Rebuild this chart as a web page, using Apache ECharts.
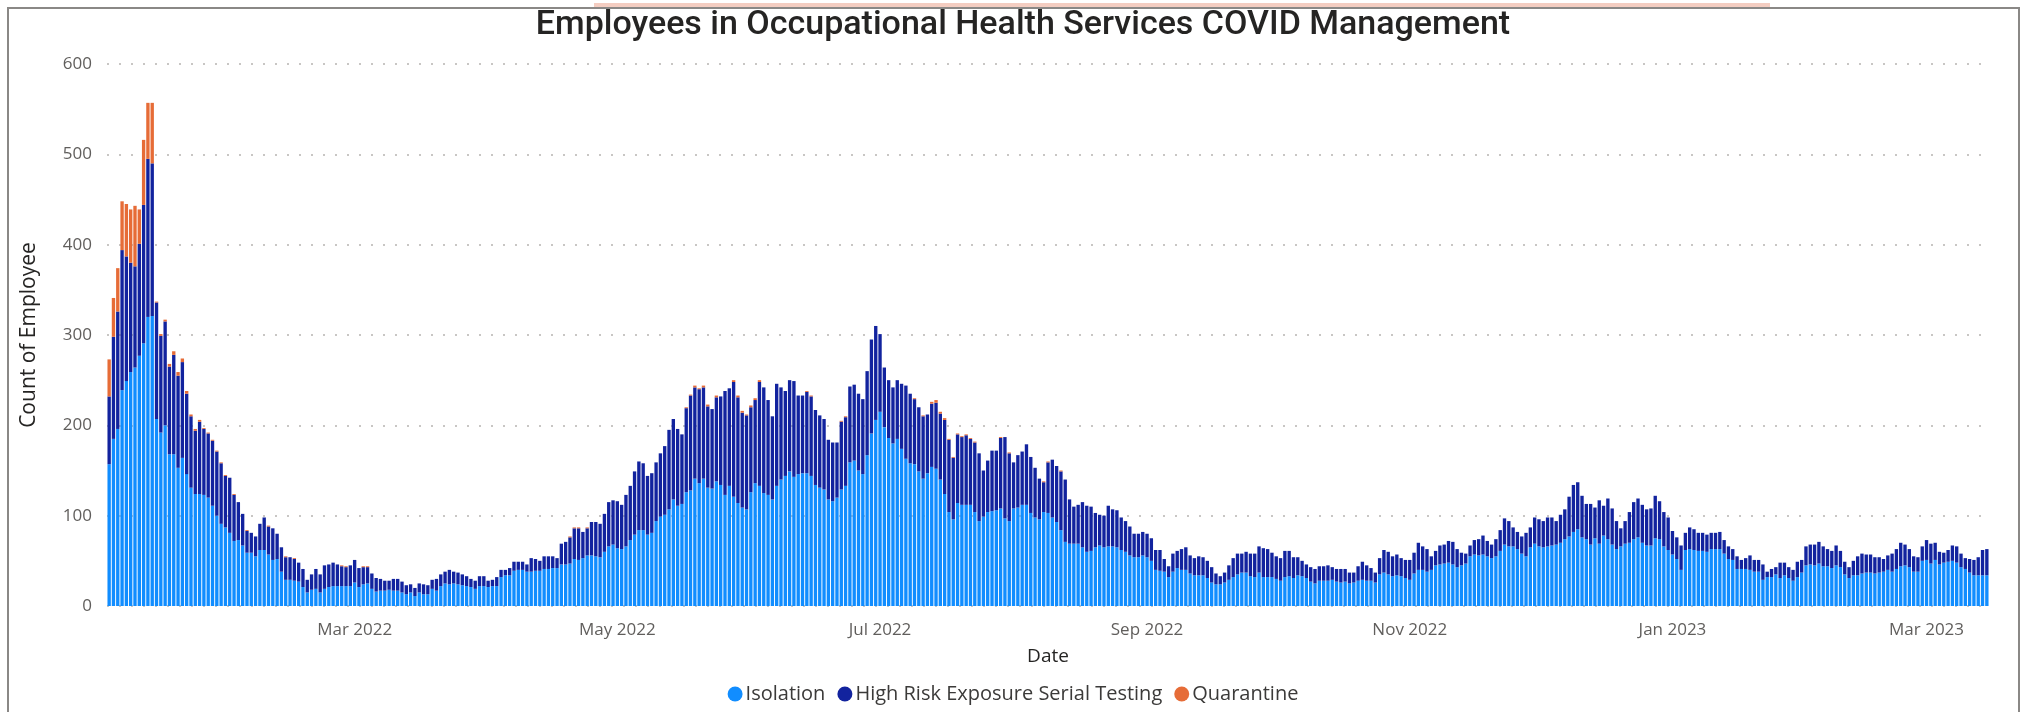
<!DOCTYPE html>
<html>
<head>
<meta charset="utf-8">
<title>Employees in Occupational Health Services COVID Management</title>
<script src="https://cdn.jsdelivr.net/npm/echarts@6.0.0/dist/echarts.min.js"></script>
<style>
  html, body { margin: 0; padding: 0; background: #fff; }
  #chart { width: 2026px; height: 712px; }
</style>
</head>
<body>
<div id="chart"></div>
<script>
  // first day shown and month ticks labelled on the axis
  const startDate = '2022-01-03';
  const tickMonths = ['2022-03', '2022-05', '2022-07', '2022-09', '2022-11', '2023-01', '2023-03'];
  const seriesNames = ['Isolation', 'High Risk Exposure Serial Testing', 'Quarantine'];

  // daily counts, one value per day from startDate
  const isolation = [
    157,185,196,239,249,259,264,277,291,320,
    321,207,192,200,168,168,153,164,146,131,
    124,124,123,120,111,100,91,87,81,72,
    73,67,59,59,55,62,62,57,51,52,
    38,29,29,28,27,21,15,18,19,15,
    19,21,22,22,22,22,22,26,21,24,
    25,19,16,17,17,18,17,17,15,13,
    15,11,15,13,13,19,17,22,25,24,
    25,24,23,22,21,19,22,22,21,22,
    22,32,34,34,39,40,40,38,38,39,
    39,41,41,42,42,46,46,47,52,51,
    53,56,56,55,54,60,66,68,64,63,
    66,73,79,84,84,79,81,94,99,101,
    107,118,111,113,126,128,141,136,141,131,
    130,138,134,123,133,121,114,109,107,126,
    136,133,125,123,118,133,140,144,149,143,
    146,147,147,144,134,131,129,118,116,120,
    129,133,159,161,150,146,167,191,206,215,
    198,186,180,185,174,163,158,157,149,141,
    147,154,152,140,124,104,96,114,112,112,
    112,104,94,99,104,105,106,108,97,94,
    108,109,112,112,103,98,96,104,103,98,
    93,84,71,69,69,69,65,60,61,65,
    67,65,66,66,65,62,60,56,54,54,
    56,54,50,40,39,38,32,38,42,40,
    40,36,34,34,34,31,26,24,24,26,
    29,32,35,37,37,33,32,37,32,32,
    32,30,28,32,33,31,34,33,31,27,
    25,28,28,28,29,27,26,27,25,26,
    28,29,28,28,26,35,37,35,33,34,
    33,31,29,36,40,40,38,40,45,46,
    47,48,46,43,45,47,55,57,56,57,
    55,53,55,61,68,66,66,63,58,55,
    65,69,66,65,66,67,68,70,74,77,
    82,85,76,74,68,75,69,78,74,68,
    63,66,69,70,74,76,70,67,67,75,
    74,66,62,57,52,40,62,63,62,61,
    61,60,63,63,63,58,52,51,41,41,
    41,40,38,38,29,32,32,35,31,34,
    31,28,32,37,45,46,45,47,44,44,
    42,45,43,35,31,34,34,36,37,37,
    36,37,38,40,38,41,44,45,43,38,
    38,50,51,47,51,46,48,49,50,48,
    43,41,37,34,34,34,34
  ];

  const highRisk = [
    75,113,130,155,138,121,112,124,153,175,
    169,129,107,115,97,110,102,106,89,79,
    70,80,73,71,72,71,67,57,61,51,
    42,35,24,22,22,29,36,31,35,28,
    27,25,25,24,21,20,14,17,22,20,
    26,25,26,24,22,21,23,25,21,19,
    18,17,15,13,11,10,13,13,12,10,
    9,9,10,11,10,10,13,13,13,16,
    13,13,12,11,9,9,11,11,7,7,
    10,8,6,8,10,9,9,8,15,13,
    11,14,14,13,11,23,25,29,34,35,
    29,30,37,38,37,42,49,49,52,49,
    57,60,70,76,74,65,66,65,70,76,
    88,89,85,77,93,105,101,104,101,90,
    88,93,98,115,108,127,117,105,104,94,
    92,115,117,105,92,113,102,94,101,106,
    87,86,90,88,83,80,78,66,65,61,
    75,76,84,84,85,83,93,104,104,86,
    66,64,62,65,72,81,77,72,71,69,
    65,70,73,73,82,80,68,76,75,77,
    73,77,75,51,57,67,66,78,90,75,
    51,58,59,67,62,55,45,33,56,64,
    62,65,69,49,41,43,50,51,49,38,
    34,35,45,41,41,36,34,32,26,26,
    26,26,25,22,23,14,12,20,19,23,
    25,20,19,21,20,19,17,12,9,11,
    16,21,23,21,23,25,26,29,32,31,
    27,25,25,29,28,23,20,17,15,16,
    16,16,16,17,14,14,15,14,12,11,
    16,20,17,14,11,18,25,25,22,23,
    20,20,22,23,30,26,25,15,16,21,
    21,24,25,20,14,11,12,16,18,21,
    17,15,19,23,29,28,21,19,19,26,
    22,29,30,29,32,31,26,31,33,44,
    52,52,46,39,45,34,48,33,45,40,
    31,20,25,34,41,43,42,40,41,47,
    42,38,36,26,24,27,19,24,23,20,
    20,19,18,18,19,15,14,12,14,10,
    12,16,13,13,17,6,9,8,17,14,
    12,12,17,14,21,22,23,24,22,19,
    19,22,18,14,12,16,21,22,20,20,
    18,17,14,16,20,22,26,23,20,17,
    16,16,22,22,19,14,11,13,17,18,
    15,12,15,17,20,28,29
  ];

  const quarantine = [
    41,43,48,54,58,59,67,38,72,62,
    67,1,2,2,3,4,4,4,3,2,
    2,2,1,1,1,1,1,1,0,1,
    0,0,1,0,0,0,0,1,0,0,
    0,1,0,1,0,0,0,0,0,0,
    0,0,0,0,1,1,0,0,0,1,
    1,0,0,0,0,0,0,0,0,0,
    0,0,0,0,0,0,0,0,0,0,
    0,0,0,0,0,0,0,0,0,0,
    0,0,0,0,0,0,0,0,0,0,
    0,0,0,0,0,0,0,1,1,1,
    0,1,0,0,0,0,0,0,0,0,
    0,0,0,0,0,0,0,0,0,0,
    0,0,0,0,1,1,2,1,2,2,
    0,2,0,0,0,2,2,2,1,2,
    2,2,0,0,0,0,0,0,0,0,
    0,0,1,1,0,0,0,0,0,0,
    1,1,0,0,0,0,0,0,0,0,
    0,0,0,0,0,0,0,1,0,1,
    0,2,3,2,2,1,1,1,1,1,
    1,1,0,0,0,0,0,1,0,1,
    0,0,0,0,0,0,0,1,1,0,
    0,1,0,0,0,0,0,0,0,0,
    0,0,0,0,0,0,0,0,0,0,
    0,0,0,0,0,0,0,0,0,0,
    0,0,0,0,0,0,0,0,0,0,
    0,0,0,0,0,0,0,0,0,0,
    0,0,0,0,0,0,0,0,0,0,
    0,0,0,0,0,0,0,0,0,0,
    0,0,0,0,0,0,0,0,0,0,
    0,0,0,0,0,0,0,0,0,0,
    0,0,0,0,0,0,0,0,0,0,
    0,0,0,0,0,0,0,0,0,0,
    0,0,0,0,0,0,0,0,0,0,
    0,0,0,0,0,0,0,0,0,0,
    0,0,0,0,0,0,0,0,0,0,
    0,0,0,0,0,0,0,0,0,0,
    0,0,0,0,0,0,0,0,0,0,
    0,0,0,0,0,0,0,0,0,0,
    0,0,0,0,0,0,0,0,0,0,
    0,0,0,0,0,0,0,0,0,0,
    0,0,0,0,0,0,0,0,0,0,
    0,0,0,0,0,0,0,0,0,0,
    0,0,0,0,0,0,0
  ];

  const monthNames = ['Jan','Feb','Mar','Apr','May','Jun','Jul','Aug','Sep','Oct','Nov','Dec'];

  // one category per day, as yyyy-mm-dd
  function buildDates(start, count) {
    let d = new Date(start + 'T00:00:00Z');
    let out = [];
    for (let i = 0; i < count; i++) {
      out.push(d.toISOString().slice(0, 10));
      d.setUTCDate(d.getUTCDate() + 1);
    }
    return out;
  }
  const dates = buildDates(startDate, isolation.length);

  const chart = echarts.init(document.getElementById('chart'));
  const labelColor = '#605E5C';
  const titleColor = '#252423';

  chart.setOption({
    animation: false,
    title: {
      text: 'Employees in Occupational Health Services COVID Management',
      left: 1023,
      textAlign: 'center',
      top: 8,
      padding: 0,
      textStyle: {
        fontFamily: 'Roboto, "Open Sans", sans-serif',
        fontSize: 34,
        fontWeight: 500,
        color: titleColor
      }
    },
    legend: {
      data: seriesNames,
      top: 679,
      left: 'center',
      icon: 'circle',
      itemWidth: 15,
      itemHeight: 15,
      itemGap: 12,
      textStyle: { fontFamily: 'Open Sans', fontSize: 20, color: '#3b3a39', padding: [0, 0, 0, -2] }
    },
    grid: { left: 107, right: 37, top: 64, bottom: 106 },
    xAxis: {
      type: 'category',
      data: dates,
      name: 'Date',
      nameLocation: 'middle',
      nameGap: 41,
      nameTextStyle: { fontFamily: 'Open Sans', fontSize: 19, color: titleColor },
      axisLine: { show: false },
      axisTick: { show: false },
      axisLabel: {
        fontFamily: 'Open Sans',
        fontSize: 17,
        color: labelColor,
        margin: 16,
        interval: function (index, value) {
          return value.slice(8) === '01' && tickMonths.indexOf(value.slice(0, 7)) >= 0;
        },
        formatter: function (value) {
          return monthNames[+value.slice(5, 7) - 1] + ' ' + value.slice(0, 4);
        }
      }
    },
    yAxis: {
      type: 'value',
      min: 0,
      max: 600,
      interval: 100,
      name: 'Count of Employee',
      nameLocation: 'middle',
      nameGap: 67,
      nameTextStyle: { fontFamily: 'Open Sans', fontSize: 21, color: titleColor },
      axisLabel: { fontFamily: 'Open Sans', fontSize: 17, color: labelColor, margin: 15 },
      splitLine: { lineStyle: { color: '#c8c6c4', type: [2, 10], width: 2 } }
    },
    series: [
      { name: seriesNames[0], type: 'bar', stack: 'emp', data: isolation, barCategoryGap: '22%', itemStyle: { color: '#118DFF' } },
      { name: seriesNames[1], type: 'bar', stack: 'emp', data: highRisk, itemStyle: { color: '#12239E' } },
      { name: seriesNames[2], type: 'bar', stack: 'emp', data: quarantine, itemStyle: { color: '#E66C37' } }
    ],
    graphic: [
      // visual frame and the highlight strip along its top
      { type: 'rect', silent: true, shape: { x: 8, y: 8, width: 2011, height: 720 }, style: { fill: null, stroke: '#8a8886', lineWidth: 2 } },
      { type: 'rect', silent: true, shape: { x: 594, y: 3, width: 1176, height: 4 }, style: { fill: '#f4cdc1' } }
    ]
  });
</script>
</body>
</html>
